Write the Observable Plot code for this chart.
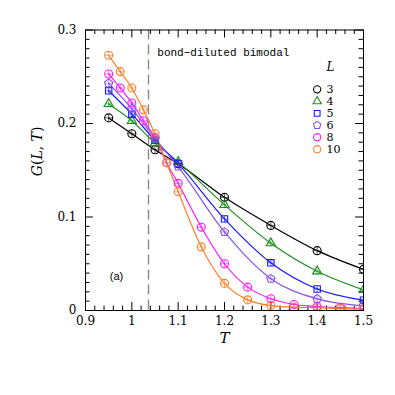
<!DOCTYPE html>
<html>
<head>
<meta charset="utf-8">
<script src="https://cdn.jsdelivr.net/npm/d3@7"></script>
<script src="https://cdn.jsdelivr.net/npm/@observablehq/plot@0.6"></script>
<style>
  html, body { margin: 0; padding: 0; background: white; }
</style>
</head>
<body>
<div id="chart"></div>
<script>
// ---- data ----
const L_values = [3, 4, 5, 6, 8, 10];
const T_coarse = [0.95, 1.0, 1.05, 1.1, 1.2, 1.3, 1.4, 1.5];
const T_fine = [0.95, 0.975, 1.0, 1.025, 1.05, 1.075, 1.1, 1.15, 1.2, 1.25, 1.3, 1.35, 1.4, 1.45, 1.5];
const G_L3 = [0.206, 0.189, 0.172, 0.157, 0.121, 0.091, 0.064, 0.044];
const G_L4 = [0.221, 0.203, 0.179, 0.159, 0.113, 0.072, 0.042, 0.022];
const G_L5 = [0.235, 0.210, 0.182, 0.157, 0.098, 0.051, 0.023, 0.011];
const G_L6 = [0.243, 0.216, 0.184, 0.154, 0.084, 0.034, 0.0125, 0.005];
const G_L8 = [0.253, 0.238, 0.222, 0.203, 0.185, 0.158, 0.136, 0.089, 0.050, 0.025, 0.0125, 0.0064, 0.0043, 0.003, 0.002];
const G_L10 = [0.273, 0.2555, 0.238, 0.2146, 0.189, 0.158, 0.127, 0.068, 0.029, 0.0114, 0.0053, 0.0035, 0.003, 0.002, 0.0015];
const T_c = 1.036;
const x_ticks = [0.9, 1.0, 1.1, 1.2, 1.3, 1.4, 1.5];
const y_ticks = [0, 0.1, 0.2, 0.3];
const annotation = "bond\u2212diluted bimodal";
const panel_label = "(a)";

// ---- styles ----
const serif = "DejaVu Serif";
const colors = {3: "#000000", 4: "#1f8f1f", 5: "#1a1aff", 6: "#8a55e8", 8: "#ff1aff", 10: "#ff7f27"};
const pentagon = {
  draw(ctx, size) {
    const R = Math.sqrt(size / 2.378);
    for (let i = 0; i < 5; i++) {
      const a = -Math.PI / 2 + i * 2 * Math.PI / 5;
      const px = R * Math.cos(a), py = R * Math.sin(a);
      if (i === 0) ctx.moveTo(px, py); else ctx.lineTo(px, py);
    }
    ctx.closePath();
  }
};
const crosshair = {
  draw(ctx, size) {
    const r = Math.sqrt(size / Math.PI) * 0.85;
    ctx.moveTo(-r, 0); ctx.lineTo(r, 0);
    ctx.moveTo(0, -r); ctx.lineTo(0, r);
  }
};
const symbols = {3: "circle", 4: "triangle", 5: "square", 6: pentagon, 8: "circle", 10: "circle"};
const sizes = {3: 4, 4: 3.4, 5: 3.6, 6: 3.8, 8: 4, 10: 4};

const seriesG = {3: G_L3, 4: G_L4, 5: G_L5, 6: G_L6, 8: G_L8, 10: G_L10};
const seriesT = {3: T_coarse, 4: T_coarse, 5: T_coarse, 6: T_coarse, 8: T_fine, 10: T_fine};
const rows = L_values.flatMap(L => seriesG[L].map((G, i) => ({L, T: seriesT[L][i], G})));
const legendRows = L_values.map((L, i) => ({L, i}));

// ---- layout ----
const W = 395, H = 395;
const mL = 85, mR = 32, mT = 29.5, mB = 85;
const fw = W - mL - mR, fh = H - mT - mB;
const majorLen = 8, minorLen = 4.5;
const xMinor = d3.range(0.9, 1.5001, 0.02).map(v => +v.toFixed(2)).filter(v => !x_ticks.some(t => Math.abs(t - v) < 1e-6));
const yMinor = d3.range(0, 0.3001, 0.01).map(v => +v.toFixed(2)).filter(v => !y_ticks.some(t => Math.abs(t - v) < 1e-6));

const legY = i => 0.2365 - i * 0.0128;

const marks = [
  Plot.ruleX([T_c], {stroke: "#8a8a8a", strokeWidth: 1.4, strokeDasharray: "10,5"}),
  // ticks (inside)
  Plot.tickX(x_ticks, {x: d => d, insetTop: fh - majorLen, stroke: "black"}),
  Plot.tickX(x_ticks, {x: d => d, insetBottom: fh - majorLen, stroke: "black"}),
  Plot.tickX(xMinor, {x: d => d, insetTop: fh - minorLen, stroke: "black"}),
  Plot.tickX(xMinor, {x: d => d, insetBottom: fh - minorLen, stroke: "black"}),
  Plot.tickY(y_ticks, {y: d => d, insetRight: fw - majorLen, stroke: "black"}),
  Plot.tickY(y_ticks, {y: d => d, insetLeft: fw - majorLen, stroke: "black"}),
  Plot.tickY(yMinor, {y: d => d, insetRight: fw - minorLen, stroke: "black"}),
  Plot.tickY(yMinor, {y: d => d, insetLeft: fw - minorLen, stroke: "black"}),
  Plot.axisX({ticks: x_ticks, tickSize: 0, tickPadding: 6, tickFormat: d => String(d), label: null, fontSize: 12, fontFamily: serif}),
  Plot.axisY({ticks: y_ticks, tickSize: 0, tickPadding: 9, tickFormat: d => String(d), label: null, fontSize: 12, fontFamily: serif}),
  Plot.text(["T"], {frameAnchor: "bottom", dy: 32, fontStyle: "italic", fontSize: 15, fontFamily: serif}),
  Plot.text(["G(L, T)"], {frameAnchor: "left", dx: -48, dy: 6, rotate: -90, fontSize: 14, fontFamily: serif, className: "ylab"}),
  // curves
  ...L_values.map(L => Plot.line(rows.filter(r => r.L === L), {x: "T", y: "G", stroke: colors[L], strokeWidth: 1.2, curve: "monotone-x", clip: true})),
  ...L_values.map(L => Plot.dot(rows.filter(r => r.L === L), {x: "T", y: "G", stroke: colors[L], fill: "white", fillOpacity: 0, symbol: symbols[L], r: sizes[L], strokeWidth: 1.1, clip: true})),
  ...L_values.map(L => Plot.dot(rows.filter(r => r.L === L), {x: "T", y: "G", stroke: colors[L], fill: "none", symbol: crosshair, r: 4, strokeWidth: 0.6, clip: true})),
  // annotations
  Plot.text([annotation], {x: 1.055, y: 0.2755, text: d => d, textAnchor: "start", fontFamily: "Liberation Mono", fontSize: 11}),
  Plot.text([panel_label], {x: 0.967, y: 0.036, text: d => d, fontFamily: "Liberation Sans", fontSize: 11}),
  // legend
  Plot.text(["L"], {x: 1.429, y: 0.2605, text: d => d, fontStyle: "italic", fontSize: 12, fontFamily: serif}),
  ...legendRows.map(({L, i}) => Plot.dot([L], {x: 1.40, y: legY(i), stroke: colors[L], fill: "none", symbol: symbols[L], r: sizes[L] * 0.9, strokeWidth: 1.1})),
  Plot.text(legendRows, {x: 1.42, y: d => legY(d.i), text: d => String(d.L), textAnchor: "start", fontSize: 11, fontFamily: serif}),
  Plot.frame({stroke: "black", strokeWidth: 1})
];

const chart = Plot.plot({
  width: W, height: H,
  marginLeft: mL, marginRight: mR, marginTop: mT, marginBottom: mB,
  x: {domain: [0.9, 1.5]},
  y: {domain: [0, 0.3]},
  style: {fontFamily: serif, fontSize: "12px", background: "white", color: "black", overflow: "visible"},
  marks
});
document.getElementById("chart").appendChild(chart);

// mixed italic for the y label
d3.select(chart).selectAll("g.ylab text").each(function () {
  const t = d3.select(this);
  t.text(null);
  t.append("tspan").attr("font-style", "italic").text("G");
  t.append("tspan").text("(");
  t.append("tspan").attr("font-style", "italic").text("L");
  t.append("tspan").text(", ");
  t.append("tspan").attr("font-style", "italic").text("T");
  t.append("tspan").text(")");
});
</script>
</body>
</html>
